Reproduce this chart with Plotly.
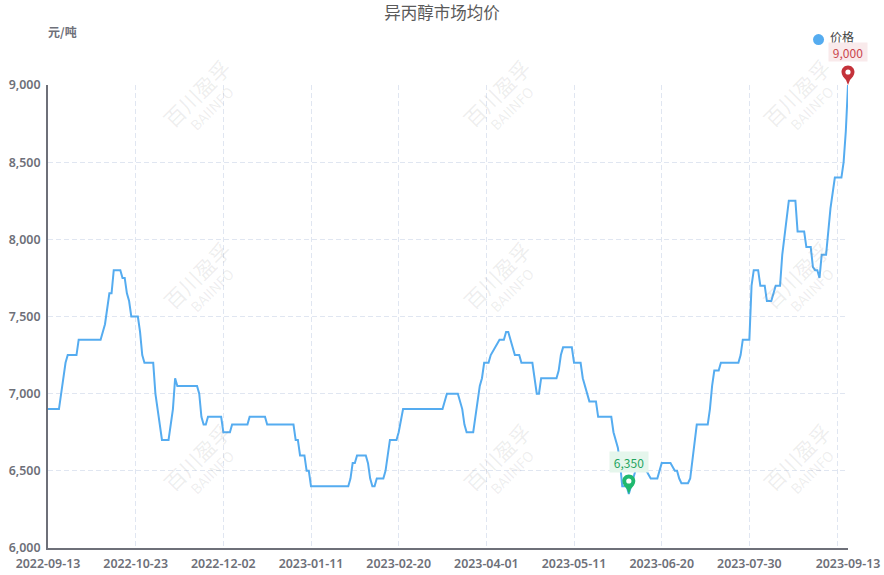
import plotly.graph_objects as go
import pandas as pd

START_DATE = "2022-09-13"
# days since START_DATE at each change of the price
day_offsets = [0,5,8,9,13,14,24,26,28,29,30,33,34,35,36,37,38,41,42,43,44,48,49,52,55,57,58,59,
               68,69,70,71,72,73,79,80,83,84,91,92,99,100,112,113,114,115,117,118,119,120,137,138,
               139,140,141,145,146,147,148,149,150,153,154,156,159,160,162,180,182,187,189,190,191,
               194,197,198,199,201,202,204,206,208,209,210,213,215,216,221,223,224,225,232,233,234,
               235,239,240,243,244,247,250,251,257,258,260,261,262,264,265,266,268,273,275,278,280,
               284,286,287,288,289,292,293,295,296,301,302,303,304,306,307,315,316,317,320,321,322,
               324,325,327,328,330,332,334,335,338,341,342,345,346,348,349,350,351,352,353,355,357,
               359,362,363,364,365]
prices = [6900,6900,7200,7250,7250,7350,7350,7450,7650,7650,7800,7800,7750,7750,7650,7600,7500,7500,
          7400,7250,7200,7200,7000,6700,6700,6900,7100,7050,7050,7000,6850,6800,6800,6850,6850,6750,
          6750,6800,6800,6850,6850,6800,6800,6700,6700,6600,6600,6500,6500,6400,6400,6450,6550,6550,
          6600,6600,6550,6450,6400,6400,6450,6450,6500,6700,6700,6750,6900,6900,7000,7000,6900,6800,
          6750,6750,7050,7100,7200,7200,7250,7300,7350,7350,7400,7400,7250,7250,7200,7200,7000,7000,
          7100,7100,7150,7250,7300,7300,7200,7200,7100,6950,6950,6850,6850,6750,6650,6550,6400,6400,
          6350,6400,6500,6500,6450,6450,6550,6550,6500,6500,6450,6420,6420,6450,6700,6800,6800,6900,
          7050,7150,7150,7200,7200,7250,7350,7350,7700,7800,7800,7700,7700,7600,7600,7700,7700,7900,
          8250,8250,8050,8050,7950,7950,7820,7800,7800,7750,7900,7900,8200,8400,8400,8500,8700,9000]
y_ticks = [6000, 6500, 7000, 7500, 8000, 8500, 9000]
x_tick_offsets = [0, 40, 80, 120, 160, 200, 240, 280, 320, 360, 365]
hidden_tick_offsets = [360]
min_offset, min_price = 265, 6350
max_offset, max_price = 365, 9000
TITLE = "异丙醇市场均价"
UNIT = "元/吨"
SERIES = "价格"
WM_CN, WM_EN = "百川盈孚", "BAIINFO"

start = pd.Timestamp(START_DATE)
def to_date(d):
    return (start + pd.Timedelta(days=d)).strftime("%Y-%m-%d")
dates = [to_date(d) for d in day_offsets]

W, H = 884, 575
L, R, T, B = 48, 35.5, 84.5, 27
FONT = "Noto Sans CJK SC"
TICK_FONT = "Noto Sans"
AXIS = "#6E7079"
GRID = "#E0E6F1"
LINE = "#55ACF0"
X_SPAN = 365
Y_MIN, Y_MAX = 6000, 9000

def px(x): return (x - L) / (W - L - R)
def py(y): return (H - B - y) / (H - B - T)
def xfrac(d): return d / X_SPAN
def yfrac(v): return (v - Y_MIN) / (Y_MAX - Y_MIN)

fig = go.Figure()
fig.add_trace(go.Scatter(x=dates, y=prices, mode="lines", name=SERIES, showlegend=False,
                         line=dict(color=LINE, width=2)))

annotations = []
def paper_text(cx, cy, text, font, angle=0, xanchor="center"):
    annotations.append(dict(x=px(cx), y=py(cy), xref="paper", yref="paper", text=text, showarrow=False,
                            textangle=angle, font=font, xanchor=xanchor, yanchor="middle", borderpad=0))

wm = "rgba(120,120,120,0.13)"
for cx in (197, 497, 797):
    for cy in (93, 275, 457):
        paper_text(cx, cy, WM_CN, dict(family=FONT, size=21, color=wm), -45)
        paper_text(cx + 15, cy + 15, WM_EN, dict(family=FONT, size=14, color=wm), -45)

paper_text(47, 30.5, UNIT, dict(family=FONT, size=12, color=AXIS, weight=700), xanchor="left")
paper_text(829, 35.5, SERIES, dict(family=FONT, size=12, color="#444444"), xanchor="left")

shapes = [dict(type="circle", xref="paper", yref="paper", xsizemode="pixel", ysizemode="pixel",
               xanchor=px(819), yanchor=py(39), x0=-5.5, x1=5.5, y0=-5.5, y1=5.5,
               fillcolor=LINE, line=dict(width=0), layer="above")]

PIN_PATH = ("M 0 0 L -2 5 C -4 7 -6.5 10 -6.5 13 C -6.5 16.6 -3.6 19.5 0 19.5 "
            "C 3.6 19.5 6.5 16.6 6.5 13 C 6.5 10 4 7 2 5 Z")
def pin(offset, price, fill):
    fx, fy = xfrac(offset), yfrac(price)
    shapes.append(dict(type="path", xsizemode="pixel", ysizemode="pixel", xanchor=fx, yanchor=fy,
                       xref="paper", yref="paper", path=PIN_PATH, fillcolor=fill, line=dict(width=0), layer="above"))
    shapes.append(dict(type="circle", xsizemode="pixel", ysizemode="pixel", xanchor=fx, yanchor=fy,
                       xref="paper", yref="paper", x0=-2.6, x1=2.6, y0=10.4, y1=15.6,
                       fillcolor="#ffffff", line=dict(width=0), layer="above"))

def label(offset, price, color, bg, yshift, height):
    annotations.append(dict(x=to_date(offset), y=price, xref="x", yref="y", text=f"{price:,}", showarrow=False,
                            yshift=yshift, width=38, height=height, borderpad=0, bgcolor=bg, yanchor="middle",
                            font=dict(family=FONT, size=12, color=color)))

pin(min_offset, min_price, "#1FB96F")
label(min_offset, min_price, "#1FA55F", "#E5F6EC", 32, 20)
pin(max_offset, max_price, "#C4323A")
label(max_offset, max_price, "#C9444B", "#F9EAEB", 33, 18)

axis_font = dict(family=TICK_FONT, size=12.4, color=AXIS, weight=600)
fig.update_layout(
    width=W, height=H, margin=dict(l=L, r=R, t=T, b=B, autoexpand=False),
    paper_bgcolor="white", plot_bgcolor="white",
    font=dict(family=FONT, size=12, color=AXIS),
    title=dict(text=TITLE, x=0.5, xanchor="center", y=1 - 13.5 / H, yanchor="middle",
               font=dict(family=FONT, size=16.5, color="#5A5A5A")),
    showlegend=False,
    annotations=annotations, shapes=shapes,
    xaxis=dict(type="date", range=[to_date(0), to_date(X_SPAN)], tickmode="array",
               tickvals=[to_date(d) for d in x_tick_offsets],
               ticktext=["" if d in hidden_tick_offsets else to_date(d) for d in x_tick_offsets],
               showgrid=True, griddash="5px,3px", gridcolor=GRID, gridwidth=1, zeroline=False,
               showline=True, linecolor=AXIS, linewidth=2, ticks="", ticklabelstandoff=3,
               tickfont=axis_font),
    yaxis=dict(range=[Y_MIN, Y_MAX], tickvals=y_ticks, tickformat=",d",
               showgrid=True, griddash="5px,3px", gridcolor=GRID, gridwidth=1, zeroline=False,
               showline=True, linecolor=AXIS, linewidth=2, ticks="", ticklabelstandoff=3,
               tickfont=axis_font),
)
fig.write_html("out.html", config=dict(displayModeBar=False), post_script="document.body.style.margin='0';")
